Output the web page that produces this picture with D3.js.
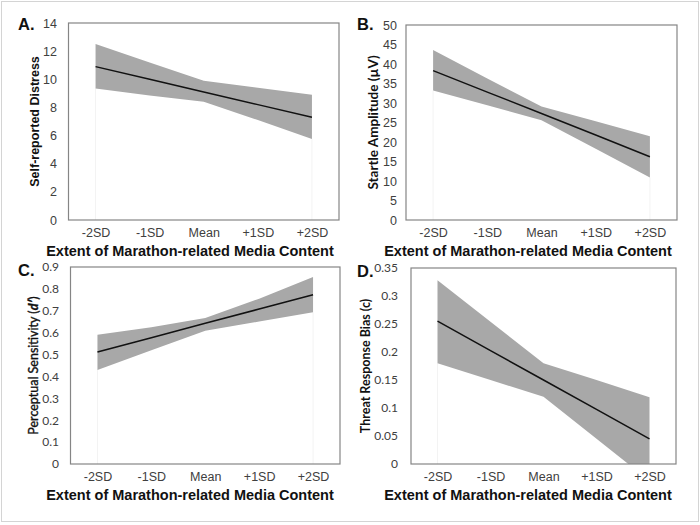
<!DOCTYPE html>
<html>
<head>
<meta charset="utf-8">
<script src="https://cdn.jsdelivr.net/npm/d3@7"></script>
<style>
  html, body { margin: 0; padding: 0; background: #fff; }
  svg { display: block; }
</style>
</head>
<body>
<svg id="chart" width="700" height="525"></svg>
<script>
// ---------- DATA ----------
const categories = ["-2SD", "-1SD", "Mean", "+1SD", "+2SD"];

const distressMean  = [10.9, 10.0, 9.1, 8.2, 7.3];
const distressUpper = [12.5, 11.2, 9.9, 9.4, 8.9];
const distressLower = [9.35, 8.85, 8.4, 7.1, 5.75];
const distressTicks = [0, 2, 4, 6, 8, 10, 12, 14];

const startleMean  = [38.3, 32.8, 27.3, 21.8, 16.2];
const startleUpper = [43.6, 36.3, 29.1, 25.3, 21.5];
const startleLower = [33.2, 29.4, 25.6, 18.3, 10.9];
const startleTicks = [0, 5, 10, 15, 20, 25, 30, 35, 40, 45, 50];

const sensMean  = [0.512, 0.577, 0.643, 0.708, 0.773];
const sensUpper = [0.59, 0.625, 0.667, 0.755, 0.854];
const sensLower = [0.43, 0.52, 0.609, 0.651, 0.693];
const sensTicks = [0, 0.1, 0.2, 0.3, 0.4, 0.5, 0.6, 0.7, 0.8, 0.9];

const biasMean  = [0.255, 0.2025, 0.15, 0.0975, 0.045];
const biasUpper = [0.328, 0.254, 0.18, 0.15, 0.119];
const biasLower = [0.18, 0.15, 0.12, 0.045, -0.03];
const biasTicks = [0, 0.05, 0.1, 0.15, 0.2, 0.25, 0.3, 0.35];

const panelLetters = ["A.", "B.", "C.", "D."];
const yTitles = ["Self-reported Distress", "Startle Amplitude (\u00b5V)", null, "Threat Response Bias (c)"];
const xTitle = "Extent of Marathon-related Media Content";

// ---------- LAYOUT ----------
const panels = [
  { letter: panelLetters[0], mean: distressMean, upper: distressUpper, lower: distressLower, ticks: distressTicks,
    x0: 68.5, x1: 339, y0: 23, y1: 220, letterX: 18, letterY: 30, yTickX: 57, yTitleX: 35, xTitleCx: 190,
    tickFont: "'Liberation Sans', Arial, sans-serif", tickSize: 12.5,
    titleFont: "'Liberation Sans', Arial, sans-serif", titleSize: 12.5, titleWeight: "bold", titleStroke: 0 },
  { letter: panelLetters[1], mean: startleMean, upper: startleUpper, lower: startleLower, ticks: startleTicks,
    x0: 406, x1: 677, y0: 25, y1: 220, letterX: 357, letterY: 30, yTickX: 397, yTitleX: 373, xTitleCx: 528,
    tickFont: "'Liberation Sans', Arial, sans-serif", tickSize: 12.5,
    titleFont: "Lato, 'Open Sans', sans-serif", titleSize: 13.5, titleWeight: "bold", titleStroke: 0 },
  { letter: panelLetters[2], mean: sensMean, upper: sensUpper, lower: sensLower, ticks: sensTicks,
    x0: 70.5, x1: 340, y0: 267, y1: 464, letterX: 18, letterY: 276, yTickX: 59, yTitleX: 33, xTitleCx: 190,
    tickFont: "Lato, 'Open Sans', sans-serif", tickSize: 12,
    titleFont: "Lato, 'Open Sans', sans-serif", titleSize: 12.5, titleWeight: "normal", titleStroke: 0.35 },
  { letter: panelLetters[3], mean: biasMean, upper: biasUpper, lower: biasLower, ticks: biasTicks,
    x0: 411, x1: 676, y0: 268, y1: 464, letterX: 357, letterY: 277, yTickX: 398, yTitleX: 365, xTitleCx: 528,
    tickFont: "Lato, 'Open Sans', sans-serif", tickSize: 12,
    titleFont: "Lato, 'Open Sans', sans-serif", titleSize: 12.5, titleWeight: "bold", titleStroke: 0 }
];

const svg = d3.select("#chart");

// outer light frame
svg.append("rect")
  .attr("x", 1.5).attr("y", 1.5).attr("width", 697).attr("height", 520)
  .attr("fill", "none").attr("stroke", "#d4d4d4").attr("stroke-width", 1);

const defs = svg.append("defs");

panels.forEach((p, i) => {
  const g = svg.append("g");
  const x = d3.scalePoint().domain(categories).range([p.x0, p.x1]).padding(0.5);
  const yMax = p.ticks[p.ticks.length - 1];
  const y = d3.scaleLinear().domain([0, yMax]).range([p.y1, p.y0]);

  const clipId = "clip" + i;
  defs.append("clipPath").attr("id", clipId)
    .append("rect").attr("x", p.x0).attr("y", p.y0).attr("width", p.x1 - p.x0).attr("height", p.y1 - p.y0);

  const rows = categories.map((c, k) => ({ c, m: p.mean[k], u: p.upper[k], l: p.lower[k] }));

  const plot = g.append("g").attr("clip-path", `url(#${clipId})`);

  // faint drop lines at band ends
  [rows[0], rows[rows.length - 1]].forEach(r => {
    plot.append("line")
      .attr("x1", x(r.c)).attr("x2", x(r.c))
      .attr("y1", y(Math.max(r.l, 0))).attr("y2", y(0))
      .attr("stroke", "#f3f3f3").attr("stroke-width", 1);
  });

  // confidence band
  const area = d3.area().x(d => x(d.c)).y0(d => y(d.l)).y1(d => y(d.u));
  plot.append("path").datum(rows).attr("d", area).attr("fill", "#a8a8a8");

  // regression line
  const line = d3.line().x(d => x(d.c)).y(d => y(d.m));
  plot.append("path").datum(rows).attr("d", line)
    .attr("fill", "none").attr("stroke", "#111").attr("stroke-width", 1.5);

  // plot frame
  g.append("rect")
    .attr("x", p.x0).attr("y", p.y0).attr("width", p.x1 - p.x0).attr("height", p.y1 - p.y0)
    .attr("fill", "none").attr("stroke", "#858585").attr("stroke-width", 1.2);

  // y axis labels (no tick marks)
  const yAxis = d3.axisLeft(y).tickValues(p.ticks).tickSize(0).tickPadding(0)
    .tickFormat(d => d3.format("~g")(d));
  const ya = g.append("g").attr("transform", `translate(${p.yTickX},0)`).call(yAxis);
  ya.select(".domain").remove();
  ya.selectAll("text")
    .attr("font-family", p.tickFont).attr("font-size", p.tickSize).attr("fill", "#404040");

  // x axis labels
  const xAxis = d3.axisBottom(x).tickSize(0).tickPadding(0);
  const xa = g.append("g").attr("transform", `translate(0,${p.y1 + 8})`).call(xAxis);
  xa.select(".domain").remove();
  xa.selectAll("text")
    .attr("font-family", "'Liberation Sans', Arial, sans-serif").attr("font-size", 12.5).attr("fill", "#404040");

  // x title
  g.append("text")
    .attr("x", p.xTitleCx).attr("y", p.y1 + 36)
    .attr("text-anchor", "middle")
    .attr("font-family", "'Liberation Sans', Arial, sans-serif")
    .attr("font-weight", "bold").attr("font-size", 14.5).attr("fill", "#111")
    .text(xTitle);

  // y title
  const cy = (p.y0 + p.y1) / 2;
  const yt = g.append("text")
    .attr("transform", `translate(${p.yTitleX},${cy}) rotate(-90)`)
    .attr("text-anchor", "middle").attr("dominant-baseline", "central")
    .attr("font-family", p.titleFont).attr("font-weight", p.titleWeight)
    .attr("font-size", p.titleSize).attr("fill", "#111");
  if (p.titleStroke > 0) {
    yt.attr("stroke", "#111").attr("stroke-width", p.titleStroke);
  }
  if (yTitles[i] !== null) {
    yt.text(yTitles[i]);
  } else {
    yt.append("tspan").text("Perceptual Sensitivity (");
    yt.append("tspan").attr("font-style", "italic").attr("font-weight", "bold").text("d\u2032");
    yt.append("tspan").text(")");
  }

  // panel letter
  g.append("text")
    .attr("x", p.letterX).attr("y", p.letterY)
    .attr("font-family", "'Liberation Sans', Arial, sans-serif")
    .attr("font-weight", "bold").attr("font-size", 16.5).attr("fill", "#111")
    .text(p.letter);
});
</script>
</body>
</html>
